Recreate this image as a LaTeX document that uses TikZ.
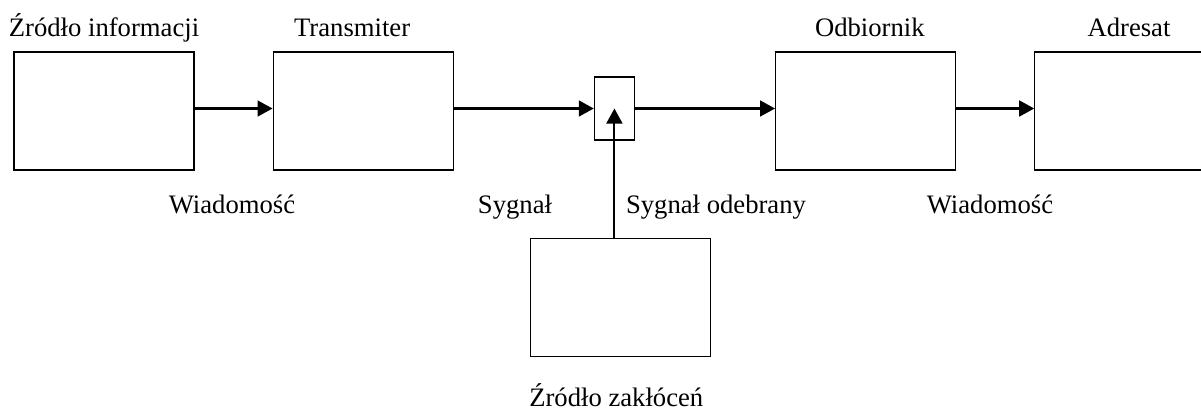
\documentclass[tikz,border=0pt]{standalone}
\usepackage{fontspec}
\setmainfont{Liberation Serif}
\usetikzlibrary{arrows.meta, positioning}

\begin{document}
\begin{tikzpicture}[
    x=0.48pt, y=-0.48pt,
    line width=0.6pt,
    >={Triangle[length=7.2pt, width=7.6pt]},
    every node/.style={font=\fontsize{12.8}{15}\selectfont},
    block/.style={draw, minimum width=86.4pt, minimum height=56.6pt, inner sep=0pt},
    mixer/.style={draw, minimum width=19.2pt, minimum height=30.2pt, inner sep=0pt},
    caption/.style={anchor=base, inner sep=0pt},
    arrow/.style={->, line width=1pt}
]
\useasboundingbox (0,0) rectangle (1201,412);
\clip (0,0) rectangle (1201,412);
\node[block] (source) at (104,111) {};
\node[block, right=37.4pt of source] (transmitter) {};
\node[mixer, right=67.2pt of transmitter, yshift=1.2pt] (mixer) {};
\node[block, right=67.2pt of mixer, yshift=-1.2pt] (receiver) {};
\node[block, right=37.4pt of receiver] (sink) {};
\node[block, below=46.6pt of mixer, xshift=2.9pt] (noise) {};
% podpisy blokow
\node[caption] (lsource) at ([yshift=7.2pt]source.north) {Źródło informacji};
\node[caption] (ltransmitter) at ([yshift=7.2pt, xshift=-5.3pt]transmitter.north) {Transmiter};
\node[caption] (lreceiver) at ([yshift=7.2pt, xshift=2pt]receiver.north) {Odbiornik};
\node[caption] (lsink) at ([yshift=7.2pt, xshift=2pt]sink.north) {Adresat};
\node[caption] (lnoise) at ([yshift=-24pt, xshift=-2pt]noise.south) {Źródło zakłóceń};
% podpisy sygnalow
\node[caption] (msg1) at (232,213) {Wiadomość};
\node[caption] (sig1) at (515,213) {Sygnał};
\node[caption] (sig2) at (716,213) {Sygnał odebrany};
\node[caption] (msg2) at (990,213) {Wiadomość};
\draw[arrow] (source.east |- mixer) -- (transmitter.west |- mixer);
\draw[arrow] (transmitter.east |- mixer) -- (mixer.west);
\draw[arrow] (mixer.east) -- (receiver.west |- mixer);
\draw[arrow] (receiver.east |- mixer) -- (sink.west |- mixer);
\draw[arrow] (noise.north -| mixer) -- (mixer.center);
\end{tikzpicture}
\end{document}
